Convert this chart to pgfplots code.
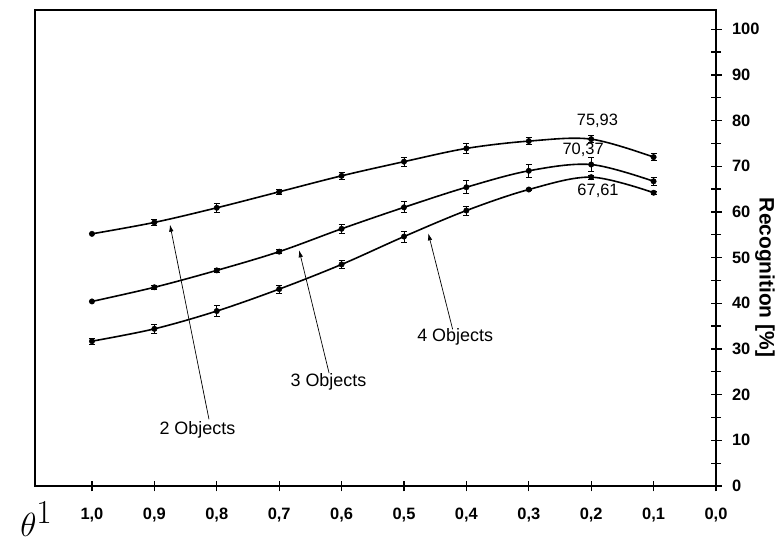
\documentclass[border=0pt]{standalone}
\usepackage{fontspec}
\setmainfont{Liberation Sans}
\usepackage{pgfplots}
\pgfplotsset{compat=1.18}
\usepackage{pgfplotstable}
\usetikzlibrary{arrows.meta}

\pgfplotstableread{
x y e
1.0 55.2 0
0.9 57.7 0.7
0.8 60.9 0.9
0.7 64.4 0.6
0.6 67.9 0.8
0.5 71.0 1.0
0.4 73.9 1.0
0.3 75.5 0.8
0.2 75.93 0.8
0.1 72.0 0.8
}\twoobj
\pgfplotstableread{
x y e
1.0 40.4 0
0.9 43.5 0.4
0.8 47.2 0.4
0.7 51.3 0.4
0.6 56.3 0.9
0.5 61.0 1.2
0.4 65.4 1.4
0.3 69.0 1.4
0.2 70.37 1.5
0.1 66.7 0.8
}\threeobj
\pgfplotstableread{
x y e
1.0 31.7 0.7
0.9 34.4 0.9
0.8 38.3 1.2
0.7 43.1 0.9
0.6 48.5 0.9
0.5 54.6 1.2
0.4 60.3 1.0
0.3 64.9 0.3
0.2 67.61 0.4
0.1 64.2 0.3
}\fourobj

\begin{document}
\begin{tikzpicture}
\begin{axis}[
  scale only axis,
  width=681bp, height=476bp,
  x dir=reverse,
  xmin=0, xmax=1.0913,
  ymin=0, ymax=104.2,
  axis line style={line width=1.5bp},
  xtick={0,0.1,0.2,0.3,0.4,0.5,0.6,0.7,0.8,0.9,1.0},
  xticklabels={0{,}0,0{,}1,0{,}2,0{,}3,0{,}4,0{,}5,0{,}6,0{,}7,0{,}8,0{,}9,1{,}0},
  ytick={0,10,...,100},
  yticklabels={0,10,20,30,40,50,60,70,80,90,100},
  minor y tick num=1,
  xtick pos=left, ytick pos=right,
  tick align=center,
  major tick length=11bp, minor tick length=10bp,
  tick style={line width=1.3bp, black},
  ticklabel style={font=\bfseries\fontsize{16.5}{18}\selectfont},
  xticklabel style={yshift=-13bp},
  yticklabel style={xshift=7bp, anchor=west},
  clip=false,
  curve/.style={black, line width=1.6bp, smooth, tension=0.55,
     mark=*, mark size=2.7bp, mark options={solid, black, fill=black, line width=0.5bp},
     error bars/.cd, y dir=both, y explicit,
     error bar style={line width=0.8bp, black},
     error mark options={rotate=90, mark size=3bp, line width=0.8bp, black}},
]
\addplot[curve] table[x=x, y=y, y error=e]{\twoobj};
\addplot[curve] table[x=x, y=y, y error=e]{\threeobj};
\addplot[curve] table[x=x, y=y, y error=e]{\fourobj};

\draw[line width=0.7bp, -{Latex[length=7bp,width=4.5bp]}] (axis cs:0.8125,14.6) -- (axis cs:0.875,57.2);
\draw[line width=0.7bp, -{Latex[length=7bp,width=4.5bp]}] (axis cs:0.620,24.7) -- (axis cs:0.668,51.6);
\draw[line width=0.7bp, -{Latex[length=7bp,width=4.5bp]}] (axis cs:0.422,34.3) -- (axis cs:0.461,55.3);

\node[font=\fontsize{18}{20}\selectfont] at (axis cs:0.831,12.3) {2 Objects};
\node[font=\fontsize{18}{20}\selectfont] at (axis cs:0.621,22.8) {3 Objects};
\node[font=\fontsize{18}{20}\selectfont] at (axis cs:0.418,32.7) {4 Objects};

\node[font=\fontsize{16.5}{18}\selectfont] at (axis cs:0.190,80.0) {75,93};
\node[font=\fontsize{16.5}{18}\selectfont] at (axis cs:0.213,73.6) {70,37};
\node[font=\fontsize{16.5}{18}\selectfont] at (axis cs:0.189,64.7) {67,61};

\node[rotate=-90, font=\bfseries\fontsize{21}{24}\selectfont] at (rel axis cs:1.072,0.438) {Recognition [\%]};
\end{axis}
\path (-15bp,-50bp) node[anchor=base west, inner sep=0pt, scale=1.35, font=\Huge] {$\theta^{\textstyle 1}$};
\pgfresetboundingbox
\path (-35bp,-58bp) rectangle (747bp,486bp);
\end{tikzpicture}
\end{document}
